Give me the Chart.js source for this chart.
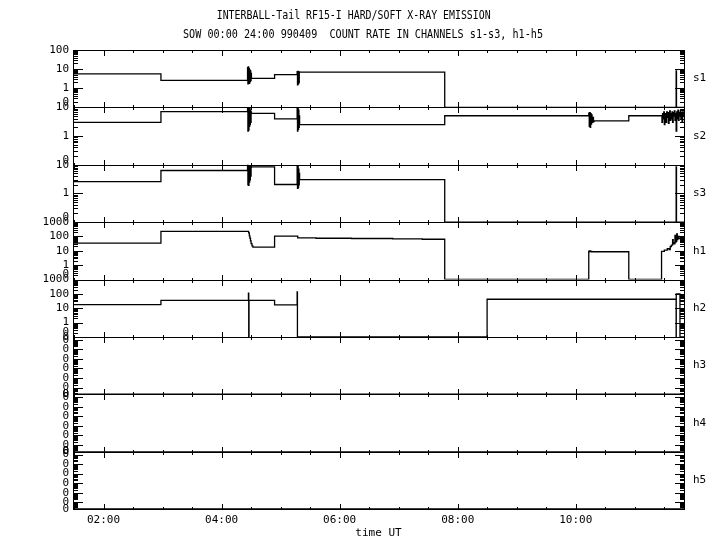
<!DOCTYPE html>
<html><head><meta charset="utf-8">
<script src="https://cdn.jsdelivr.net/npm/chart.js@4.4.1/dist/chart.umd.min.js"></script>
<style>html,body{margin:0;padding:0;background:#fff;}canvas{display:block;}</style>
</head><body>
<canvas id="c" width="720" height="550"></canvas>
<script>
// ---- texts ----
const titleLine1 = 'INTERBALL-Tail RF15-I HARD/SOFT X-RAY EMISSION';
const titleLine2 = 'SOW 00:00 24:00 990409  COUNT RATE IN CHANNELS s1-s3, h1-h5';
const xAxisTitle = 'time UT';

// ---- x axis (hours UT) ----
const xMinHours = 1.4833;
const xMaxHours = 11.8333;
const xLabelHours = [2, 4, 6, 8, 10];
const xLabelTexts = ['02:00', '04:00', '06:00', '08:00', '10:00'];
const xTickHours = [1.5, 2, 2.5, 3, 3.5, 4, 4.5, 5, 5.5, 6, 6.5, 7, 7.5, 8, 8.5, 9, 9.5, 10, 10.5, 11, 11.5];

// ---- panels ----
const panelNames = ['s1', 's2', 's3', 'h1', 'h2', 'h3', 'h4', 'h5'];
const panelMin = [0.1, 0.1, 0.1, 0.1, 0.1, 2e-7, 2e-7, 2e-7];
const panelMax = [100, 10, 10, 1000, 1000, 0.2, 0.2, 0.2];

// ---- series: [hour UT, count rate] (0 = no counts) ----
const s1 = [[1.4833,5.6],[2.973,2.6],[4.44,12],[4.446,1.7],[4.452,13],[4.458,2.0],[4.464,11],[4.470,1.8],[4.476,9],[4.482,2.2],[4.488,8],[4.494,2.5],[4.500,6],[4.506,3.3],[4.898,5.1],[5.28,7.4],[5.286,1.5],[5.292,7.5],[5.298,1.7],[5.304,7],[5.310,2],[5.316,7.2],[5.322,6.9],[7.78,0],[11.70,8],[11.706,0],[11.8333,0]];
const s2 = [[1.4833,3.0],[2.973,7.1],[4.44,9.5],[4.446,1.5],[4.452,9.8],[4.458,1.6],[4.464,9],[4.470,2.2],[4.476,9.5],[4.482,2.5],[4.488,8],[4.494,3],[4.500,7],[4.506,6.2],[4.898,4.0],[5.28,9.5],[5.286,1.5],[5.292,9.8],[5.298,1.7],[5.304,8],[5.310,2],[5.316,5],[5.322,2.5],[7.78,5.1],[10.22,6.3],[10.228,2.2],[10.236,6.5],[10.244,2.0],[10.252,6],[10.26,2.6],[10.268,5.5],[10.276,3.0],[10.29,4.5],[10.30,3.2],[10.31,3.4],[10.898,5.1],[11.46,3],[11.47,6],[11.48,4],[11.49,7],[11.50,2.5],[11.51,6],[11.52,5],[11.53,3],[11.54,7],[11.55,4.5],[11.56,6.5],[11.57,2.8],[11.58,5.5],[11.59,7.5],[11.60,3.5],[11.61,6],[11.62,4],[11.63,7],[11.64,3],[11.65,6.5],[11.66,5],[11.67,7.5],[11.68,3.5],[11.69,6],[11.70,1.5],[11.71,7],[11.72,4],[11.73,8],[11.74,3.5],[11.75,6.5],[11.76,5],[11.77,7.5],[11.78,4],[11.79,6.5],[11.80,3],[11.81,7],[11.82,5],[11.8333,6]];
const s3 = [[1.4833,2.6],[2.973,6.3],[4.44,10],[4.446,2],[4.452,9.5],[4.458,1.9],[4.464,9],[4.470,2.5],[4.476,8.5],[4.482,3],[4.488,9],[4.494,4],[4.500,8.4],[4.898,2.05],[5.28,9],[5.286,1.5],[5.292,8.5],[5.298,1.6],[5.304,7],[5.310,2],[5.316,5],[5.322,3.05],[7.78,0],[11.70,8.4],[11.706,0],[11.8333,0]];
const h1 = [[1.4833,34.5],[2.973,224],[4.458,180],[4.47,110],[4.48,75],[4.49,50],[4.50,32],[4.515,22],[4.53,18],[4.898,107],[5.29,80],[5.6,75],[6.2,72],[6.9,68],[7.4,64],[7.78,0],[10.22,9.5],[10.23,8.5],[10.24,10],[10.25,9],[10.27,8.6],[10.898,0],[11.453,9],[11.5,11],[11.55,14],[11.58,12],[11.6,20],[11.62,25],[11.64,60],[11.65,35],[11.66,30],[11.68,120],[11.69,40],[11.70,45],[11.71,150],[11.72,60],[11.73,100],[11.75,70],[11.78,80],[11.80,95],[11.8333,90]];
const h2 = [[1.4833,17.7],[2.973,35.5],[4.455,110],[4.46,0],[4.465,35.5],[4.898,17],[5.28,135],[5.285,0],[8.498,42],[11.70,0],[11.702,100],[11.765,0],[11.8333,0]];
const h3 = [[1.4833,0],[11.8333,0]];
const h4 = [[1.4833,0],[11.8333,0]];
const h5 = [[1.4833,0],[11.8333,0]];
const seriesList = [s1, s2, s3, h1, h2, h3, h4, h5];

const FONT = '"DejaVu Sans Mono", "Liberation Mono", monospace';
const PANEL_PX = 57.375;

function yLabel(v) {
  return v < 1 ? '0' : String(Math.round(v));
}

// label positions: min (raised a few px like the original), powers of ten, max
function labelTicks(min, max) {
  const decades = Math.log10(max) - Math.log10(min);
  const isPow = Math.abs(Math.log10(min) - Math.round(Math.log10(min))) < 1e-6;
  const lift = isPow ? 5 * decades / PANEL_PX : 0;
  const out = [{value: min * Math.pow(10, lift)}];
  const e0 = Math.ceil(Math.log10(min) - 1e-9), e1 = Math.floor(Math.log10(max) + 1e-9);
  for (let e = e0; e <= e1; e++) {
    const v = Math.pow(10, e);
    if (Math.abs(Math.log10(v) - Math.log10(min)) > 1e-6 && Math.abs(Math.log10(v) - Math.log10(max)) > 1e-6) out.push({value: v});
  }
  out.push({value: max});
  return out;
}

const scales = {
  x: {
    type: 'linear', position: 'bottom', min: xMinHours, max: xMaxHours,
    grid: {display: false, drawTicks: false}, border: {display: false},
    afterBuildTicks: (s) => { s.ticks = xLabelHours.map(v => ({value: v})); },
    afterFit: (s) => { s.height = 41; },
    ticks: {autoSkip: false, maxRotation: 0, padding: 5, color: '#000', font: {family: FONT, size: 11},
      callback: (v) => { const i = xLabelHours.indexOf(v); return i >= 0 ? xLabelTexts[i] : ''; }},
    title: {display: true, text: xAxisTitle, color: '#000', font: {family: FONT, size: 11}, padding: {top: 0, bottom: 10}}
  }
};
panelNames.forEach((name, i) => {
  scales['y' + i] = {
    type: 'logarithmic', position: 'left', stack: 'panels', stackWeight: 1, weight: panelNames.length - i,
    min: panelMin[i], max: panelMax[i], bounds: 'data',
    grid: {display: false, drawTicks: false}, border: {display: false},
    afterBuildTicks: (s) => { s.ticks = labelTicks(panelMin[i], panelMax[i]); },
    afterFit: (s) => { s.width = 73; },
    ticks: {autoSkip: false, padding: 4, color: '#000', font: {family: FONT, size: 11},
      callback: (v) => yLabel(v)}
  };
});

const datasets = seriesList.map((s, i) => ({
  label: panelNames[i],
  data: s.map(([t, v]) => ({x: t, y: Math.max(v, panelMin[i])})),
  yAxisID: 'y' + i,
  borderColor: '#000', borderWidth: 1.3, pointRadius: 0, fill: false, stepped: 'before', tension: 0
}));

function drawScaledText(ctx, text, cx, cy, targetW, px) {
  ctx.save();
  ctx.font = px + 'px ' + FONT;
  const w = ctx.measureText(text).width;
  ctx.translate(cx, cy);
  ctx.scale(targetW / w, 1);
  ctx.textAlign = 'center'; ctx.textBaseline = 'middle'; ctx.fillStyle = '#000';
  ctx.fillText(text, 0, 0);
  ctx.restore();
}

const framePlugin = {
  id: 'panelFrames',
  afterDatasetsDraw(chart) {
    const ctx = chart.ctx, ca = chart.chartArea, xs = chart.scales.x;
    const L = Math.round(ca.left), R = Math.round(ca.right);
    ctx.save();
    ctx.strokeStyle = '#000'; ctx.lineWidth = 1;
    panelNames.forEach((name, i) => {
      const ys = chart.scales['y' + i];
      const top = Math.round(ys.top), bot = Math.round(ys.bottom);
      ctx.beginPath();
      ctx.rect(L + 0.5, top + 0.5, R - L, bot - top);
      const e0 = Math.floor(Math.log10(panelMin[i])), e1 = Math.ceil(Math.log10(panelMax[i]));
      for (let e = e0; e <= e1; e++) {
        for (let k = 1; k <= 9; k++) {
          const v = k * Math.pow(10, e);
          if (v < panelMin[i] * 0.9999 || v > panelMax[i] * 1.0001) continue;
          const y = Math.round(ys.getPixelForValue(v)) + 0.5;
          const len = k === 1 ? 10 : 5;
          ctx.moveTo(L, y); ctx.lineTo(L + len, y);
          ctx.moveTo(R + 1, y); ctx.lineTo(R + 1 - len, y);
        }
      }
      xTickHours.forEach(h => {
        const x = Math.round(xs.getPixelForValue(h)) + 0.5;
        const len = (h % 2 === 0) ? 6 : 3;
        ctx.moveTo(x, top); ctx.lineTo(x, top + len);
        ctx.moveTo(x, bot + 1); ctx.lineTo(x, bot + 1 - len);
      });
      ctx.stroke();
      ctx.fillStyle = '#000';
      ctx.font = '11px ' + FONT;
      ctx.textAlign = 'left'; ctx.textBaseline = 'middle';
      ctx.fillText(name, R + 9, (top + bot) / 2);
    });
    drawScaledText(ctx, titleLine1, 353.7, 15.8, 274, 11.5);
    drawScaledText(ctx, titleLine2, 363, 34.8, 360, 11.5);
    ctx.restore();
  }
};

new Chart(document.getElementById('c'), {
  type: 'line',
  data: {datasets},
  options: {
    responsive: false, animation: false, devicePixelRatio: 1,
    layout: {padding: {left: 0, right: 36, top: 50, bottom: 0}},
    plugins: {legend: {display: false}, tooltip: {enabled: false}, title: {display: false}},
    scales
  },
  plugins: [framePlugin]
});
</script>
</body></html>
